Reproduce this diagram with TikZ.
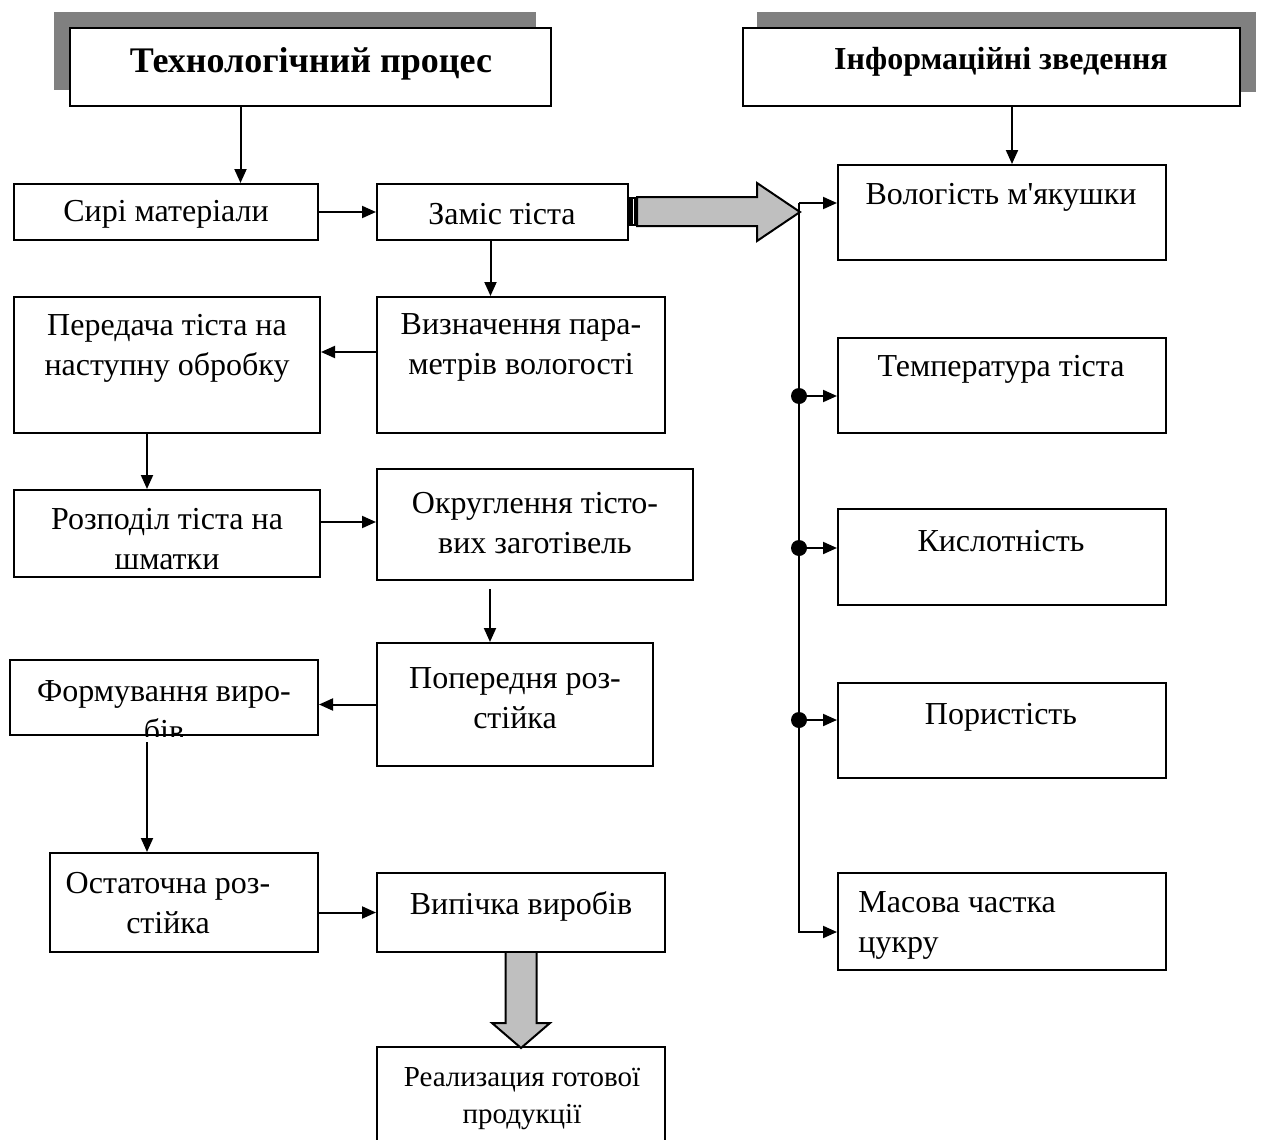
\documentclass[tikz,border=0pt]{standalone}
\usepackage{fontspec}
\setmainfont{Liberation Serif}
\newfontfamily\plainserif{Liberation Serif}
\usetikzlibrary{arrows.meta,positioning,calc,fit}

\begin{document}
\begin{tikzpicture}[x=0.5pt, y=-0.5pt,
  box/.style={draw, fill=white, line width=1pt, inner sep=0pt, fit={#1}},
  txt/.style={font=\fontsize{16}{20}\selectfont, align=center, inner sep=0pt},
  head/.style={font=\fontsize{18}{20}\selectfont\bfseries, inner sep=0pt},
  arr/.style={-{Triangle[length=7pt,width=6pt]}, line width=1pt},
  shade/.style={fill=black!50, draw=none},
  bigarr/.style={fill=black!25, draw=black, line width=1pt, line join=miter}]
  \useasboundingbox (0,0) rectangle (1286,1140);

  % headers with shadow
  \fill[shade] (54,12) rectangle (536,90);
  \node[box={(70,28) (551,106)}] (head1) {};
  \node[head] (head1-t) at (311,64) {Технологічний процес};
  \fill[shade] (757,12) rectangle (1256,92);
  \node[box={(743,28) (1240,106)}] (head2) {};
  \node[head, font=\fontsize{16}{18}\selectfont\bfseries] (head2-t) at (1001,62) {Інформаційні зведення};

  % process column
  \node[box={(14,184) (318,240)}] (siri) {};
  \node[txt] (siri-t) at (166,214) {Сирі матеріали};
  \node[box={(377,184) (628,240)}] (zamis) {};
  \node[txt] (zamis-t) at (502,214) {Заміс тіста};
  \node[box={(14,297) (320,433)}] (pered) {};
  \node[txt] (pered-t) at (167,348) {Передача тіста на\\наступну обробку};
  \node[box={(377,297) (665,433)}] (vyzn) {};
  \node[txt] (vyzn-t) at (521,347) {Визначення пара-\\метрів вологості};
  \node[box={(14,490) (320,577)}] (rozp) {};
  \node[txt] (rozp-t) at (167,539) {Розподіл тіста на\\шматки};
  \node[box={(377,469) (693,580)}] (okrug) {};
  \node[txt] (okrug-t) at (535,523) {Округлення тісто-\\вих заготівель};
  \node[box={(10,660) (318,735)}] (form) {};
  \begin{scope}
    \clip (form.north west) rectangle (form.south east);
    \node[txt] (form-t) at (164,711) {Формування виро-\\бів};
  \end{scope}
  \node[box={(377,643) (653,766)}] (poper) {};
  \node[txt] (poper-t) at (515,698) {Попередня роз-\\стійка};
  \node[box={(50,853) (318,952)}] (ost) {};
  \node[txt] (ost-t) at (168,903) {Остаточна роз-\\стійка};
  \node[box={(377,873) (665,952)}] (vyp) {};
  \node[txt] (vyp-t) at (521,906) {Випічка виробів};
  \node[box={(377,1047) (665,1160)}] (real) {};
  \node[txt, font=\fontsize{14.5}{18.5}\selectfont] (real-t) at (522,1099) {Реализация готової\\продукції};

  % information column
  \node[box={(838,165) (1166,260)}] (volog) {};
  \node[txt] (volog-t) at (1001,197) {Вологість м{\plainserif '}якушки};
  \node[box={(838,338) (1166,433)}] (temp) {};
  \node[txt] (temp-t) at (1001,369) {Температура тіста};
  \node[box={(838,509) (1166,605)}] (kysl) {};
  \node[txt] (kysl-t) at (1001,541) {Кислотність};
  \node[box={(838,683) (1166,778)}] (porist) {};
  \node[txt] (porist-t) at (1001,717) {Пористість};
  \node[box={(838,873) (1166,970)}] (masova) {};
  \node[txt, align=left, anchor=west] (masova-t) at (858,925) {Масова частка\\цукру};

  % process flow
  \draw[arr] ([xshift=-35pt]head1.south) -- ([xshift=-35pt]head1.south |- siri.north);
  \draw[arr] (siri) -- (zamis);
  \draw[arr] ([xshift=-6pt]zamis.south) -- ([xshift=-6pt]zamis.south |- vyzn.north);
  \draw[arr] ([yshift=6.5pt]vyzn.west) -- ([yshift=6.5pt]vyzn.west -| pered.east);
  \draw[arr] ([xshift=-10pt]pered.south) -- ([xshift=-10pt]pered.south |- rozp.north);
  \draw[arr] ([yshift=5.75pt]rozp.east) -- ([yshift=5.75pt]rozp.east -| okrug.west);
  \draw[arr, shorten <=4pt] ([xshift=-22.5pt]okrug.south) -- ([xshift=-22.5pt]okrug.south |- poper.north);
  \draw[arr] (poper.west) -- (poper.west -| form.east);
  \draw[arr, shorten <=3pt] ([xshift=-8.5pt]form.south) -- ([xshift=-8.5pt]form.south |- ost.north);
  \draw[arr] (vyp.west -| ost.east) -- (vyp.west);

  % wide arrows
  \begin{scope}[shift={(zamis.east)}]
    \draw[bigarr] (8,-15) -- (128,-15) -- (128,-29) -- (171,0) -- (128,29) -- (128,14) -- (8,14) -- cycle;
    \fill (-2,-15) rectangle (8,14);
    \fill[white] (4,-13) rectangle (5,12);
  \end{scope}
  \begin{scope}[shift={(vyp.south)}]
    \draw[bigarr] (-15.5,0) -- (-15.5,70) -- (-29,70) -- (0,95) -- (29,70) -- (15.5,70) -- (15.5,0);
  \end{scope}

  % information flow
  \draw[arr] ([xshift=10.25pt]head2.south) -- ([xshift=10.25pt]head2.south |- volog.north);
  \coordinate (bus) at ([xshift=-19pt, yshift=4.75pt]volog.west);
  \draw[arr] (bus) -- (bus -| volog.west);
  \draw[arr] (bus) |- ([yshift=-5.25pt]masova.west);
  \foreach \b/\d in {temp/-5.25, kysl/4.5, porist/5.25} {
    \coordinate (d\b) at ([yshift=\d pt]\b.west);
    \fill (bus |- d\b) circle[radius=4pt];
    \draw[arr] (bus |- d\b) -- (d\b);
  }
\end{tikzpicture}
\end{document}
